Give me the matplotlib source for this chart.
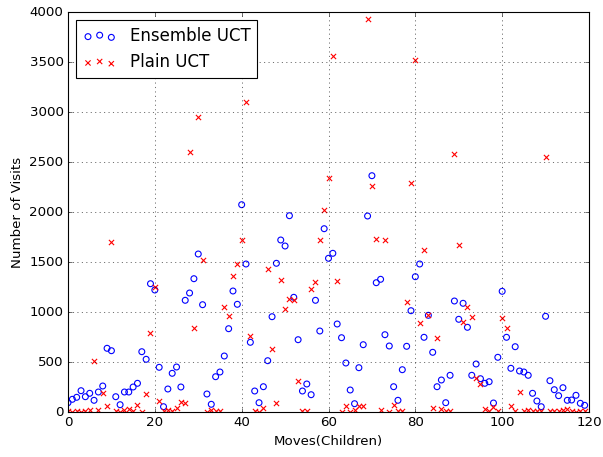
import matplotlib
matplotlib.use('Agg')
import matplotlib.pyplot as plt
import numpy as np

# visits per child move
moves = np.arange(120)

ensemble_uct = [93, 127, 147, 213, 153, 187, 117, 200, 260, 637,
                613, 153, 73, 200, 200, 250, 287, 603, 527, 1283,
                1220, 447, 53, 230, 387, 450, 250, 1117, 1190, 1333,
                1580, 1073, 180, 77, 353, 400, 560, 833, 1210, 1077,
                2073, 1480, 697, 210, 93, 253, 513, 953, 1487, 1720,
                1660, 1963, 1147, 723, 210, 280, 173, 1117, 810, 1833,
                1537, 1587, 880, 743, 490, 220, 83, 443, 673, 1960,
                2363, 1293, 1327, 773, 660, 253, 117, 423, 657, 1013,
                1353, 1480, 747, 967, 597, 253, 320, 93, 367, 1110,
                927, 1087, 847, 367, 480, 333, 287, 303, 90, 547,
                1207, 747, 437, 653, 410, 400, 367, 187, 110, 53,
                957, 313, 223, 163, 243, 117, 120, 167, 87, 67]

plain_uct = [10, 5, 10, 5, 15, 20, 510, 20, 190, 63,
             1700, 10, 5, 20, 30, 10, 70, 5, 180, 790,
             1250, 110, 10, 20, 15, 40, 100, 90, 2600, 840,
             2950, 1520, 5, 20, 10, 15, 1050, 960, 1360, 1480,
             1720, 3100, 760, 10, 5, 40, 1430, 630, 95, 1320,
             1030, 1130, 1120, 310, 10, 10, 1230, 1300, 1720, 2020,
             2340, 3560, 1310, 5, 60, 5, 25, 60, 60, 3930,
             2260, 1730, 25, 1720, 5, 70, 15, 10, 1100, 2290,
             3520, 890, 1620, 970, 45, 740, 30, 15, 15, 2580,
             1670, 900, 1050, 950, 340, 280, 30, 10, 55, 10,
             940, 840, 60, 15, 200, 15, 25, 15, 15, 15,
             2550, 15, 15, 15, 25, 35, 10, 5, 10, 10]

plt.style.use('classic')
fig = plt.figure(figsize=(603 / 80, 457 / 80), dpi=80, facecolor='white')
ax = fig.add_axes([68 / 603, 1 - 412 / 457, 521 / 603, 400 / 457])

ax.scatter(moves, ensemble_uct, marker='o', s=28, facecolors='none',
           edgecolors='b', linewidths=1.0, label='Ensemble UCT')
ax.scatter(moves, plain_uct, marker='x', s=22, color='r',
           linewidths=1.0, label='Plain UCT')

ax.set_xlim(0, 120)
ax.set_ylim(0, 4000)
ax.set_xlabel('Moves(Children)', fontsize=12)
ax.set_ylabel('Number of Visits', fontsize=12)
ax.tick_params(labelsize=12)
ax.grid(True)
ax.legend(loc='upper left', fontsize=15)

fig.savefig('out.png', dpi=80, facecolor='white')
